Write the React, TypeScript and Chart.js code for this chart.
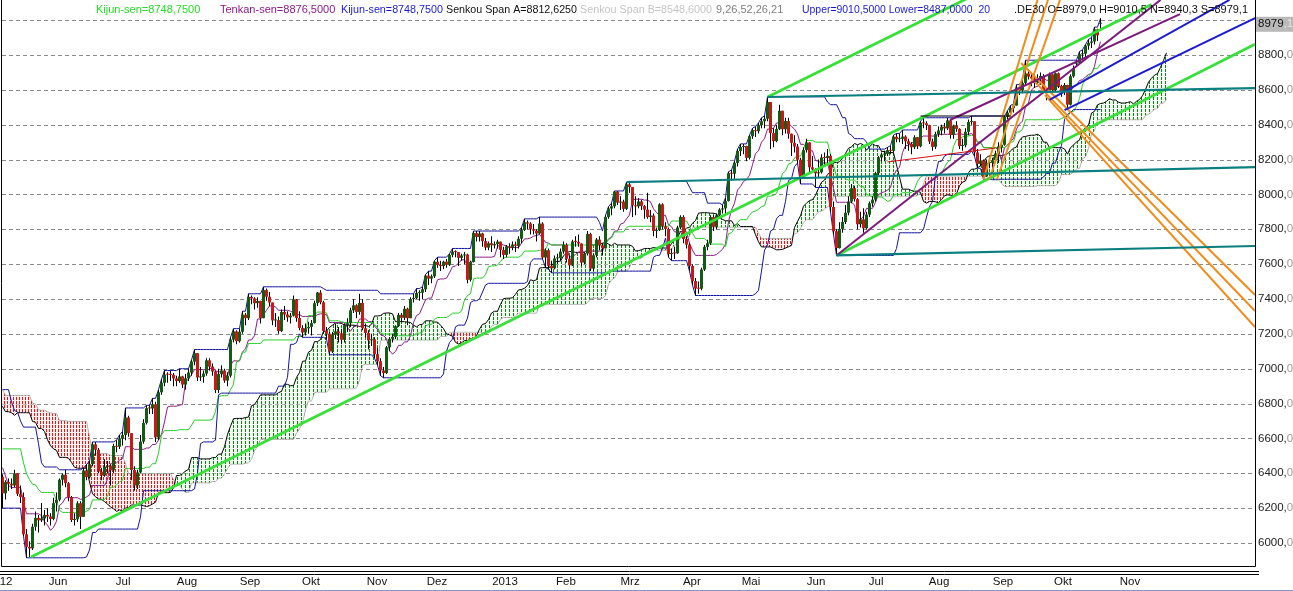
import React, { useEffect, useRef } from "react";
import { Chart, registerables } from "chart.js";
Chart.register(...registerables);

// ---------- DATA ----------
// Daily candles [open, high, low, close], 23 May 2012 .. 24 Oct 2013
const candles: number[][] = [
  // May 2012
  [6380,6395,6200,6285],[6285,6360,6250,6350],[6350,6370,6300,6340],[6340,6370,6310,6330],[6330,6420,6320,6400],[6400,6400,6270,6282],[6282,6330,6230,6264],
  // Jun 2012
  [6264,6290,6040,6050],[6050,6080,5915,5978],[5978,6010,5920,5969],[5969,6110,5960,6093],[6093,6180,6070,6144],[6144,6160,6060,6130],[6130,6230,6120,6141],[6141,6190,6100,6161],[6161,6200,6120,6152],[6152,6170,6100,6138],[6138,6260,6130,6229],[6229,6290,6180,6248],[6248,6370,6240,6363],[6363,6400,6330,6392],[6392,6420,6320,6343],[6343,6350,6240,6263],[6263,6270,6120,6132],[6132,6170,6100,6136],[6136,6240,6120,6228],[6228,6240,6080,6150],[6150,6430,6150,6416],
  // Jul 2012
  [6416,6450,6360,6378],[6378,6470,6370,6452],[6452,6580,6440,6566],[6566,6580,6500,6535],[6535,6545,6400,6410],[6410,6430,6360,6387],[6387,6480,6380,6438],[6438,6470,6400,6444],[6444,6450,6330,6417],[6417,6570,6400,6557],[6557,6590,6520,6552],[6552,6620,6540,6600],[6600,6640,6560,6620],[6620,6775,6590,6720],[6720,6730,6610,6630],[6630,6630,6360,6419],[6419,6440,6300,6330],[6330,6420,6310,6405],[6405,6620,6400,6582],[6582,6710,6570,6689],[6689,6790,6680,6774],[6774,6790,6740,6772],
  // Aug 2012
  [6772,6830,6740,6796],[6796,6810,6580,6606],[6606,6880,6590,6865],[6865,6940,6850,6919],[6919,6990,6900,6967],[6967,6980,6920,6966],[6966,6990,6930,6965],[6965,6975,6900,6944],[6944,6960,6900,6929],[6929,7000,6920,6956],[6956,6960,6890,6909],[6909,6970,6880,6945],[6945,7000,6930,6978],[6978,7050,6960,7041],[7041,7110,7020,7089],[7089,7090,6930,6950],[6950,7010,6930,6953],[6953,6990,6920,6972],[6972,7060,6960,7048],[7048,7060,6990,7012],[7012,7030,6960,6984],[6984,6990,6860,6878],[6878,7000,6860,6970],
  // Sep 2012
  [6970,7020,6950,6990],[6990,7000,6920,6932],[6932,6980,6900,6960],[6960,7180,6950,7167],[7167,7230,7150,7214],[7214,7220,7140,7158],[7158,7230,7150,7212],[7212,7330,7200,7310],[7310,7320,7250,7290],[7290,7430,7280,7412],[7412,7420,7370,7403],[7403,7410,7340,7376],[7376,7410,7350,7389],[7389,7390,7260,7290],[7290,7470,7290,7451],[7451,7460,7390,7413],[7413,7440,7360,7380],[7380,7380,7250,7277],[7277,7320,7240,7279],[7279,7300,7200,7216],
  // Oct 2012
  [7216,7340,7210,7326],[7326,7360,7280,7311],[7311,7330,7270,7295],[7295,7320,7260,7304],[7304,7420,7300,7398],[7398,7400,7270,7291],[7291,7330,7220,7234],[7234,7250,7180,7208],[7208,7260,7190,7232],[7232,7270,7200,7240],[7240,7280,7190,7262],[7262,7390,7260,7376],[7376,7440,7360,7437],[7437,7450,7370,7381],[7381,7390,7200,7217],[7217,7240,7170,7201],[7201,7210,7080,7099],[7099,7210,7090,7195],[7195,7260,7170,7214],[7214,7240,7150,7203],[7203,7230,7140,7166],[7166,7260,7150,7250],[7250,7290,7210,7261],
  // Nov 2012
  [7261,7350,7240,7335],[7335,7400,7320,7364],[7364,7370,7290,7326],[7326,7430,7310,7377],[7377,7400,7220,7232],[7232,7260,7180,7205],[7205,7220,7110,7163],[7163,7200,7130,7169],[7169,7180,7060,7083],[7083,7120,7020,7043],[7043,7060,6960,6990],[6990,7010,6948,6975],[6975,7130,6970,7123],[7123,7180,7100,7172],[7172,7200,7150,7183],[7183,7250,7170,7244],[7244,7320,7240,7309],[7309,7320,7270,7292],[7292,7360,7280,7344],[7344,7350,7250,7290],[7290,7410,7290,7400],[7400,7430,7380,7405],
  // Dec 2012
  [7405,7460,7400,7435],[7435,7450,7390,7436],[7436,7470,7400,7456],[7456,7540,7440,7534],[7534,7560,7480,7517],[7517,7540,7490,7530],[7530,7620,7520,7614],[7614,7640,7580,7596],[7596,7620,7560,7589],[7589,7620,7570,7614],[7614,7630,7580,7596],[7596,7660,7590,7653],[7653,7690,7640,7672],[7672,7680,7640,7669],[7669,7670,7590,7636],[7636,7660,7620,7650],[7650,7670,7600,7655],[7655,7660,7490,7510],[7510,7620,7500,7612],
  // Jan 2013
  [7612,7790,7610,7778],[7778,7790,7730,7756],[7756,7790,7730,7776],[7776,7780,7700,7732],[7732,7750,7680,7695],[7695,7730,7680,7720],[7720,7760,7670,7708],[7708,7730,7690,7715],[7715,7740,7690,7729],[7729,7730,7640,7682],[7682,7700,7630,7653],[7653,7710,7640,7702],[7702,7720,7660,7695],[7695,7730,7680,7713],[7713,7730,7670,7705],[7705,7760,7690,7746],[7746,7810,7720,7796],[7796,7860,7790,7840],[7840,7850,7800,7833],[7833,7840,7770,7800],[7800,7830,7770,7792],[7792,7800,7730,7776],
  // Feb 2013
  [7776,7870,7770,7833],[7833,7840,7630,7638],[7638,7690,7580,7680],[7680,7690,7570,7590],[7590,7620,7550,7576],[7576,7650,7570,7633],[7633,7660,7600,7635],[7635,7690,7620,7672],[7672,7730,7660,7711],[7711,7720,7610,7631],[7631,7650,7570,7593],[7593,7740,7590,7730],[7730,7760,7700,7728],[7728,7770,7700,7718],[7718,7720,7590,7609],[7609,7670,7600,7661],[7661,7790,7650,7773],[7773,7780,7560,7574],[7574,7660,7560,7651],[7651,7750,7640,7741],
  // Mar 2013
  [7741,7760,7680,7708],[7708,7720,7650,7691],[7691,7880,7690,7870],[7870,7930,7860,7919],[7919,7950,7880,7932],[7932,8020,7920,8016],[8016,8020,7940,7953],[7953,7990,7910,7959],[7959,7970,7900,7917],[7917,8070,7910,8058],[8058,8075,8010,8042],[8042,8042,7870,7938],[7938,7990,7880,7932],[7932,7980,7920,7960],[7960,7970,7910,7933],[7933,7940,7860,7913],[7913,8010,7860,7870],[7870,7910,7840,7879],[7879,7890,7760,7790],[7790,7810,7750,7795],
  // Apr 2013
  [7795,7950,7790,7943],[7943,7950,7800,7817],[7817,7840,7760,7802],[7802,7810,7640,7658],[7658,7690,7620,7663],[7663,7700,7630,7662],[7662,7820,7660,7810],[7810,7880,7800,7871],[7871,7880,7720,7744],[7744,7760,7690,7712],[7712,7720,7560,7589],[7589,7600,7480,7503],[7503,7520,7420,7460],[7460,7500,7430,7459],[7459,7580,7450,7569],[7569,7710,7560,7699],[7699,7740,7680,7720],[7720,7880,7710,7870],[7870,7880,7790,7814],[7814,7890,7800,7880],[7880,7920,7860,7913],
  // May 2013
  [7913,7940,7890,7920],[7920,7980,7880,7962],[7962,8130,7960,8122],[8122,8140,8080,8119],[8119,8190,8090,8181],[8181,8260,8160,8249],[8249,8290,8220,8272],[8272,8290,8230,8278],[8278,8280,8190,8210],[8210,8340,8200,8334],[8334,8380,8320,8369],[8369,8390,8330,8363],[8363,8410,8350,8398],[8398,8440,8380,8420],[8420,8450,8380,8434],[8434,8560,8420,8530],[8530,8530,8260,8352],[8352,8380,8270,8306],[8306,8400,8300,8375],[8375,8515,8370,8480],[8480,8480,8340,8374],[8374,8440,8350,8421],[8421,8440,8320,8348],
  // Jun 2013
  [8348,8350,8220,8296],[8296,8340,8240,8275],[8275,8290,8180,8199],[8199,8210,8060,8106],[8106,8270,8100,8254],[8254,8320,8240,8298],[8298,8300,8120,8156],[8156,8220,8130,8143],[8143,8150,8040,8121],[8121,8200,8100,8127],[8127,8230,8120,8212],[8212,8240,8160,8209],[8209,8260,8180,8221],[8221,8230,7900,7928],[7928,7960,7770,7789],[7789,7800,7650,7692],[7692,7840,7690,7802],[7802,7870,7780,7842],[7842,7940,7830,7895],[7895,7990,7880,7959],
  // Jul 2013
  [7959,8060,7950,8036],[8036,8050,7960,7973],[7973,7980,7800,7829],[7829,7900,7810,7857],[7857,7920,7780,7806],[7806,7900,7800,7884],[7884,7960,7870,7949],[7949,7990,7930,7970],[7970,8130,7960,8122],[8122,8220,8110,8212],[8212,8240,8190,8229],[8229,8250,8190,8232],[8232,8270,8220,8254],[8254,8280,8230,8250],[8250,8340,8240,8331],[8331,8350,8300,8317],[8317,8350,8300,8319],[8319,8370,8290,8332],[8332,8340,8260,8305],[8305,8320,8250,8289],[8289,8300,8230,8271],[8271,8340,8260,8328],[8328,8330,8260,8276],
  // Aug 2013
  [8276,8420,8270,8411],[8411,8440,8380,8408],[8408,8420,8370,8398],[8398,8400,8290,8304],[8304,8320,8250,8273],[8273,8360,8260,8346],[8346,8390,8330,8367],[8367,8400,8340,8389],[8389,8410,8350,8379],[8379,8440,8370,8425],[8425,8430,8320,8342],[8342,8400,8320,8395],[8395,8420,8360,8376],[8376,8380,8260,8278],[8278,8320,8250,8282],[8282,8380,8270,8359],[8359,8430,8340,8416],[8416,8450,8400,8420],[8420,8420,8220,8241],[8241,8260,8150,8175],[8175,8230,8160,8195],[8195,8200,8087,8103],
  // Sep 2013
  [8103,8200,8100,8180],[8180,8220,8150,8181],[8181,8210,8120,8196],[8196,8250,8180,8235],[8235,8300,8180,8276],[8270,8300,8240,8285],[8285,8450,8280,8445],[8445,8480,8430,8469],[8469,8510,8460,8495],[8495,8520,8470,8510],[8510,8630,8510,8613],[8613,8620,8570,8596],[8596,8660,8580,8640],[8640,8770,8630,8694],[8694,8720,8660,8676],[8676,8700,8620,8665],[8665,8690,8610,8640],[8640,8690,8630,8665],[8660,8700,8630,8680],[8680,8690,8580,8596],[8596,8610,8540,8594],
  // Oct 2013
  [8594,8700,8590,8689],[8689,8690,8580,8599],[8599,8700,8590,8695],[8695,8700,8610,8622],[8622,8630,8560,8591],[8591,8640,8570,8628],[8628,8630,8487,8515],[8515,8690,8510,8678],[8678,8740,8670,8725],[8750,8770,8742.5,8755],[8755,8820,8750,8804],[8804,8830,8770,8807],[8807,8860,8780,8854],[8854,8890,8830,8870],[8870,8900,8840,8878],[8878,8960,8860,8947],[8947,8950,8880,8913],[8979,9010.5,8940.3,8979.1],
];

// Highs / lows of the (off-screen) sessions Feb..22 May 2012, needed by the indicators
const preHighs: number[] = [
  6640,6690,6780,6780,6770,6790,6800,6760,6760,6750,6790,6730,6870,6970,6950,6890,6850,6880,6870,6900,6920,
  6960,6970,6920,6850,6700,6800,6920,6900,7020,7050,7100,7194,7170,7060,7080,7040,7010,7090,7110,7060,6990,6990,
  7080,7090,6990,6830,6760,6700,6760,6750,6700,6810,6780,6770,6820,6780,6620,6720,6760,6880,6810,
  6760,6752,6700,6560,6510,6490,6560,6665,6570,6460,6430,6420,6360,6370,6436,
];
const preLows: number[] = [
  6520,6600,6640,6710,6700,6720,6720,6680,6700,6640,6720,6650,6720,6880,6860,6820,6780,6800,6780,6810,6830,
  6870,6900,6840,6620,6590,6660,6800,6830,6860,6970,6990,7070,7040,6960,6990,6900,6900,6990,7030,6970,6850,6880,
  6930,6990,6770,6740,6590,6590,6660,6570,6560,6630,6700,6650,6690,6500,6520,6580,6680,6730,6740,
  6680,6670,6550,6410,6400,6330,6440,6480,6310,6300,6290,6290,6210,6230,6320,
];

// Indicator parameters: Tenkan, Kijun, Senkou B, displacement; Donchian period
const ichimokuParams = [9, 26, 52, 22];
const donchianPeriod = 20;

// y-axis ticks
const yTicks: number[] = [6000,6200,6400,6600,6800,7000,7200,7400,7600,7800,8000,8200,8400,8600,8800,9000];
const lastPrice = "8979";
const lastPriceDec = ",1";
const lastPriceValue = 8979.1;

// x-axis month labels and their session positions
const monthLabels: string[] = ["12","Jun","Jul","Aug","Sep","Okt","Nov","Dez","2013","Feb","Mrz","Apr","Mai","Jun","Jul","Aug","Sep","Okt","Nov"];
const monthPos: number[] = [1.2,18.5,40.2,61.5,82.5,102.8,124.8,144.8,167.5,187.8,209.2,229.8,249.5,271.2,291.2,312.2,333.5,353.5,375.8];

// drawn trend lines [session1, price1, session2, price2]
const greenLines: number[][] = [[9.5,5920,383,9090],[255,8559,322,9128],[278,7650,417.5,8862]];
const tealLines: number[][] = [[255,8559,417.5,8610],[208,8070,417.5,8157],[278,7650,417.5,7704]];
const orangeLines: number[][] = [
  [327,8087,345,9116],[329,8087,348.5,9116],[331.5,8087,352.5,9116],
  [339.5,8754,417.5,7423],[343.5,8657,417.5,7331],[347.5,8570,417.5,7239],
];
const purpleLines: number[][] = [[278,7650,386,9116],[315.8,8427,392.5,9035]];
const blueLines: number[][] = [[349,8542,409,9116],[354,8484,417.5,9012]];
const redLines: number[][] = [[295,8186,331,8266]];
const blackLines: number[][] = [[306,8450,336,8450]];

// header legend texts
const headerTexts: string[] = [
  "Kijun-sen=8748,7500",
  "Tenkan-sen=8876,5000",
  "Kijun-sen=8748,7500",
  "Senkou Span A=8812,6250",
  "Senkou Span B=8548,6000",
  "9,26,52,26,21",
  "Upper=9010,5000 Lower=8487,0000  20",
  ".DE30 O=8979,0 H=9010,5 N=8940,3 S=8979,1",
];

// ---------- STYLE ----------
const FONT = "Liberation Sans, Arial, sans-serif";
const headerStyle = [
  { x: 96, w: 108, color: "#22dd22" },
  { x: 220, w: 118, color: "#8b1a8b" },
  { x: 341, w: 102, color: "#1a1acc" },
  { x: 446, w: 131, color: "#111111" },
  { x: 580, w: 132, color: "#c4c4c4" },
  { x: 716, w: 70, color: "#808080" },
  { x: 802, w: 188, color: "#1a1acc" },
  { x: 1014, w: 234, color: "#111111" },
];

function rangeHL(H: number[], L: number[], off: number, period: number, s: number) {
  let hi = -Infinity, lo = Infinity;
  for (let k = s - period + 1; k <= s; k++) {
    const j = k + off;
    if (j < 0) continue;
    if (H[j] > hi) hi = H[j];
    if (L[j] < lo) lo = L[j];
  }
  return [hi, lo];
}

function makePattern(color: string, bg: string | null, w: number, h: number, dh: number) {
  const c = document.createElement("canvas");
  c.width = w; c.height = h;
  const g = c.getContext("2d")!;
  if (bg) { g.fillStyle = bg; g.fillRect(0, 0, w, h); }
  g.fillStyle = color;
  g.fillRect(1, 1, 1, dh);
  return g.createPattern(c, "repeat")!;
}

function lineSets(list: number[][], color: string, width: number) {
  return list.map((l) => ({
    type: "line" as const,
    data: [{ x: l[0], y: l[1] }, { x: l[2], y: l[3] }],
    borderColor: color,
    borderWidth: width,
    pointRadius: 0,
    fill: false,
    tension: 0,
    order: 0,
  }));
}

export default function App() {
  const ref = useRef<HTMLCanvasElement>(null);

  useEffect(() => {
    const canvas = ref.current!;
    const [tP, kP, bP, shift] = ichimokuParams;
    const H = [...preHighs, ...candles.map((c) => c[1])];
    const L = [...preLows, ...candles.map((c) => c[2])];
    const off = preHighs.length;
    const n = candles.length;

    const tenkan: any[] = [], kijun: any[] = [], dUp: any[] = [], dLo: any[] = [];
    for (let s = 0; s < n; s++) {
      const t = rangeHL(H, L, off, tP, s);
      const k = rangeHL(H, L, off, kP, s);
      const d = rangeHL(H, L, off, donchianPeriod, s);
      tenkan.push({ x: s, y: (t[0] + t[1]) / 2 });
      kijun.push({ x: s, y: (k[0] + k[1]) / 2 });
      dUp.push({ x: s, y: d[0] });
      dLo.push({ x: s, y: d[1] });
    }
    const spanA: any[] = [], spanB: any[] = [];
    for (let s = -off; s < n; s++) {
      if (s + off - (bP - 1) < 0) continue;
      const t = rangeHL(H, L, off, tP, s);
      const k = rangeHL(H, L, off, kP, s);
      const b = rangeHL(H, L, off, bP, s);
      spanA.push({ x: s + shift, y: ((t[0] + t[1]) / 2 + (k[0] + k[1]) / 2) / 2 });
      spanB.push({ x: s + shift, y: (b[0] + b[1]) / 2 });
    }

    const greenPat = makePattern("#0a8a0a", "rgba(225,245,225,0.35)", 4, 4, 3);
    const redPat = makePattern("#e01818", "rgba(255,225,225,0.55)", 3, 4, 3);

    const wicks = candles.map((c, i) => ({ x: i, y: [c[2], c[1]] }));
    const bodies = candles.map((c, i) => ({ x: i, y: [c[0], c[3]] }));
    const bodyColors = candles.map((c) => (c[3] >= c[0] ? "#145c14" : "#c81818"));

    const xMin = -1 / 6;
    const xMax = xMin + 1253 / 3;
    const yMin = 5868.0;
    const yMax = 9115.6;

    const frame = {
      id: "frame",
      beforeDatasetsDraw(chart: any) {
        const ctx = chart.ctx;
        const a = chart.chartArea;
        const ys = chart.scales.y;
        ctx.save();
        ctx.strokeStyle = "#8a8a8a";
        ctx.lineWidth = 1;
        ctx.setLineDash([4, 3]);
        for (const v of yTicks) {
          const y = Math.round(ys.getPixelForValue(v)) + 0.5;
          ctx.beginPath();
          ctx.moveTo(a.left, y);
          ctx.lineTo(a.right, y);
          ctx.stroke();
        }
        ctx.restore();
      },
      afterDraw(chart: any) {
        const ctx = chart.ctx;
        const a = chart.chartArea;
        const ys = chart.scales.y;
        const xs = chart.scales.x;
        ctx.save();
        ctx.setLineDash([]);
        ctx.strokeStyle = "#000";
        ctx.lineWidth = 1;
        ctx.beginPath();
        ctx.moveTo(1.5, 0); ctx.lineTo(1.5, a.bottom + 0.5);
        ctx.lineTo(a.right + 0.5, a.bottom + 0.5); ctx.lineTo(a.right + 0.5, 0);
        ctx.stroke();
        ctx.beginPath();
        ctx.moveTo(0, 571.5); ctx.lineTo(1259, 571.5);
        ctx.moveTo(0, 574.5); ctx.lineTo(1259, 574.5);
        ctx.stroke();
        ctx.strokeStyle = "#7d9cc4";
        ctx.beginPath();
        ctx.moveTo(0, 590.5); ctx.lineTo(1293, 590.5);
        ctx.stroke();

        // y labels
        ctx.font = "11.5px " + FONT;
        ctx.textBaseline = "middle";
        ctx.textAlign = "left";
        for (const v of yTicks) {
          if (v === 9000) continue;
          const y = ys.getPixelForValue(v);
          const main = String(v) + ",";
          ctx.fillStyle = "#222";
          ctx.fillText(main, 1258, y);
          const w = ctx.measureText(main).width;
          ctx.fillStyle = "#9a9a9a";
          ctx.fillText("0", 1258 + w, y);
        }
        // last price badge
        const yb = ys.getPixelForValue(lastPriceValue);
        ctx.fillStyle = "#b9b9b9";
        ctx.fillRect(1256, yb - 7, 37, 15);
        ctx.fillStyle = "#111";
        ctx.fillText(lastPrice, 1258, yb);
        const wb = ctx.measureText(lastPrice).width;
        ctx.fillStyle = "#e6e6e6";
        ctx.fillText(lastPriceDec, 1258 + wb, yb);

        // x labels
        ctx.font = "11.5px " + FONT;
        ctx.fillStyle = "#111";
        ctx.textAlign = "center";
        ctx.textBaseline = "middle";
        monthLabels.forEach((m, i) => {
          ctx.fillText(m, xs.getPixelForValue(monthPos[i]), 582);
        });

        // header
        ctx.font = "11px " + FONT;
        ctx.textAlign = "left";
        ctx.textBaseline = "middle";
        headerTexts.forEach((t, i) => {
          const st = headerStyle[i];
          ctx.fillStyle = st.color;
          ctx.fillText(t, st.x, 10, st.w);
        });
        ctx.restore();
      },
    };

    const chart = new Chart(canvas, {
      type: "bar",
      data: {
        datasets: [
          {
            type: "line",
            data: spanB,
            borderColor: "#a8a8a8",
            borderWidth: 1,
            pointRadius: 0,
            fill: false,
            order: 5,
          } as any,
          {
            type: "line",
            data: spanA,
            borderColor: "#000000",
            borderWidth: 1,
            pointRadius: 0,
            fill: { target: 0, above: greenPat, below: redPat },
            order: 4,
          } as any,
          { type: "line", data: dUp, borderColor: "#12129e", borderWidth: 1, pointRadius: 0, fill: false, order: 3 } as any,
          { type: "line", data: dLo, borderColor: "#12129e", borderWidth: 1, pointRadius: 0, fill: false, order: 3 } as any,
          { type: "line", data: kijun, borderColor: "#22cc22", borderWidth: 1, pointRadius: 0, fill: false, order: 3 } as any,
          { type: "line", data: tenkan, borderColor: "#8b1a8b", borderWidth: 1, pointRadius: 0, fill: false, order: 3 } as any,
          {
            type: "bar",
            data: wicks,
            backgroundColor: "#000",
            barThickness: 1,
            grouped: false,
            inflateAmount: 0,
            order: 2,
          } as any,
          {
            type: "bar",
            data: bodies,
            backgroundColor: bodyColors,
            barThickness: 3,
            minBarLength: 1,
            grouped: false,
            inflateAmount: 0,
            order: 1,
          } as any,
          ...lineSets(redLines, "#d01010", 1),
          ...lineSets(blackLines, "#000000", 1),
          ...lineSets(tealLines, "#0b7f80", 2.2),
          ...lineSets(purpleLines, "#7d1a7d", 2),
          ...lineSets(blueLines, "#1c1cd0", 2),
          ...lineSets(orangeLines, "#f08c1c", 2),
          ...lineSets(greenLines, "#36e036", 2.8),
        ] as any,
      },
      options: {
        responsive: false,
        animation: false,
        devicePixelRatio: 1,
        events: [],
        layout: { padding: { left: 2, right: 38, top: 0, bottom: 25 } },
        plugins: { legend: { display: false }, tooltip: { enabled: false } },
        scales: {
          x: { type: "linear", min: xMin, max: xMax, offset: false, display: false },
          y: { type: "linear", min: yMin, max: yMax, display: false },
        },
      } as any,
      plugins: [frame],
    });
    return () => chart.destroy();
  }, []);

  return (
    <div style={{ position: "absolute", left: 0, top: 0, width: 1293, height: 591, background: "#fff" }}>
      <canvas ref={ref} width={1293} height={591} style={{ display: "block" }} />
    </div>
  );
}
